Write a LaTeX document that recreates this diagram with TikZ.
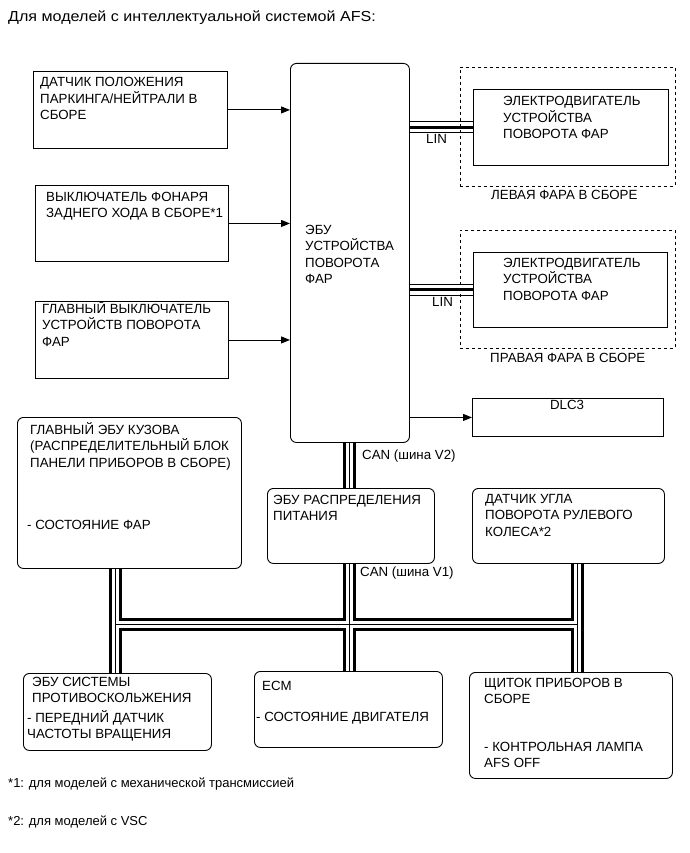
\documentclass[tikz,border=0pt]{standalone}
\usepackage{fontspec}
\setmainfont{Liberation Sans}
\newfontfamily\titlefont{Liberation Sans}[FakeStretch=1.11]
\usetikzlibrary{arrows.meta}
\pgfdeclarelayer{back}
\pgfdeclarelayer{bg}
\pgfsetlayers{back,bg,main}
\newcommand\busCAN[1]{\draw[#1]
  (ecu.south -| jc) -- (pwr.north -| jc)
  (pwr.south -| jc) -- (ecm.north -| jc)
  (body.south -| jl) -- (abs.north -| jl)
  (steer.south -| jr) -- (clus.north -| jr)
  (jl) -- (jr);}
\newcommand\busLIN[1]{\draw[#1]
  (motl.west -| ecu.east) -- (motl.west)
  (motr.west -| ecu.east) -- (motr.west);}
\begin{document}
\begin{tikzpicture}[x=1pt,y=-1pt,
  box/.style={draw, line width=0.9pt, fill=white, anchor=north west, inner sep=0pt, rectangle},
  rbox/.style={box, rounded corners=6pt},
  lamp/.style={draw, dash pattern=on 3pt off 3pt, line width=0.8pt, anchor=north west, inner sep=0pt, rectangle},
  txt/.style={font=\fontsize{13.3}{16.5}\selectfont, align=left, anchor=base west, inner sep=0pt},
  arr/.style={line width=0.9pt, -{Triangle[length=9pt,width=7pt]}},
]
\useasboundingbox (0,0) rectangle (689,853);
\begin{pgfonlayer}{back}
\fill[white] (0,0) rectangle (689,853);
\end{pgfonlayer}

\node[txt, font=\titlefont\fontsize{14.5}{16}\selectfont] (title) at (8,22) {Для моделей с интеллектуальной системой AFS:};

% input boxes (multi-line nodes are anchored at the baseline of their last line)
\node[box, minimum width=194pt, minimum height=77pt] (pnp) at (33,71) {};
\node[txt] (pnpT) at (40,120) {ДАТЧИК ПОЛОЖЕНИЯ\\ПАРКИНГА/НЕЙТРАЛИ В\\СБОРЕ};
\node[box, minimum width=193pt, minimum height=76pt] (bls) at (35,185) {};
\node[txt] (blsT) at (46,217.5) {ВЫКЛЮЧАТЕЛЬ ФОНАРЯ\\ЗАДНЕГО ХОДА В СБОРЕ*1};
\node[box, minimum width=193pt, minimum height=77pt] (msw) at (35,301) {};
\node[txt] (mswT) at (42,346) {ГЛАВНЫЙ ВЫКЛЮЧАТЕЛЬ\\УСТРОЙСТВ ПОВОРОТА\\ФАР};

% ECU
\node[rbox, minimum width=119pt, minimum height=379pt] (ecu) at (290,63) {};
\node[txt] (ecuT) at (305,283.5) {ЭБУ\\УСТРОЙСТВА\\ПОВОРОТА\\ФАР};

% headlamps
\node[lamp, minimum width=215pt, minimum height=119pt] (laml) at (460,67) {};
\node[box, minimum width=195pt, minimum height=76pt] (motl) at (473,89) {};
\node[txt] (motlT) at (503,139) {ЭЛЕКТРОДВИГАТЕЛЬ\\УСТРОЙСТВА\\ПОВОРОТА ФАР};
\node[txt] (lamlT) at (491,200) {ЛЕВАЯ ФАРА В СБОРЕ};
\node[txt] (linl) at (426,144) {LIN};

\node[lamp, minimum width=215pt, minimum height=118pt] (lamr) at (460,230) {};
\node[box, minimum width=194pt, minimum height=75pt] (motr) at (473,252) {};
\node[txt] (motrT) at (503,300) {ЭЛЕКТРОДВИГАТЕЛЬ\\УСТРОЙСТВА\\ПОВОРОТА ФАР};
\node[txt] (lamrT) at (490,362) {ПРАВАЯ ФАРА В СБОРЕ};
\node[txt] (linr) at (432,306) {LIN};

% DLC3
\node[box, minimum width=191pt, minimum height=38pt] (dlc) at (472,398) {};
\node[txt, anchor=base] (dlcT) at (567,409) {DLC3};

% middle row
\node[rbox, minimum width=224pt, minimum height=151pt] (body) at (17,417) {};
\node[txt] (bodyT) at (30,467) {ГЛАВНЫЙ ЭБУ КУЗОВА\\(РАСПРЕДЕЛИТЕЛЬНЫЙ БЛОК\\ПАНЕЛИ ПРИБОРОВ В СБОРЕ)};
\node[txt] (bodyS) at (27,529) {- СОСТОЯНИЕ ФАР};

\node[rbox, minimum width=167pt, minimum height=75pt] (pwr) at (267,488) {};
\node[txt] (pwrT) at (273,520.5) {ЭБУ РАСПРЕДЕЛЕНИЯ\\ПИТАНИЯ};
\node[txt] (canv2) at (362,459) {CAN (шина V2)};
\node[txt] (canv1) at (360,576) {CAN (шина V1)};

\node[rbox, minimum width=192pt, minimum height=75pt] (steer) at (472,488) {};
\node[txt] (steerT) at (485,536) {ДАТЧИК УГЛА\\ПОВОРОТА РУЛЕВОГО\\КОЛЕСА*2};

% bottom row
\node[rbox, minimum width=188pt, minimum height=77pt] (abs) at (23,673) {};
\node[txt] (absT) at (32,702.5) {ЭБУ СИСТЕМЫ\\ПРОТИВОСКОЛЬЖЕНИЯ};
\node[txt] (absS) at (27,738.5) {- ПЕРЕДНИЙ ДАТЧИК\\ЧАСТОТЫ ВРАЩЕНИЯ};

\node[rbox, minimum width=188pt, minimum height=76pt] (ecm) at (254,671) {};
\node[txt] (ecmT) at (262,690) {ECM};
\node[txt] (ecmS) at (256,721) {- СОСТОЯНИЕ ДВИГАТЕЛЯ};

\node[rbox, minimum width=203pt, minimum height=106pt] (clus) at (469,672) {};
\node[txt] (clusT) at (484,703.5) {ЩИТОК ПРИБОРОВ В\\СБОРЕ};
\node[txt] (clusS) at (484,767.5) {- КОНТРОЛЬНАЯ ЛАМПА\\AFS OFF};

% footnotes
\node[txt, font=\fontsize{13}{16}\selectfont] (fn1) at (8,787) {*1: для моделей с механической трансмиссией};
\node[txt, font=\fontsize{13}{16}\selectfont] (fn2) at (8,825) {*2: для моделей с VSC};

% arrows
\draw[arr] (pnp.east) -- (pnp.east -| ecu.west);
\draw[arr] (bls.east) -- (bls.east -| ecu.west);
\draw[arr] (msw.east) -- (msw.east -| ecu.west);
\draw[arr] (dlc.west -| ecu.east) -- (dlc.west);

% buses
\coordinate (jl) at (115,624);
\coordinate (jc) at (349,624);
\coordinate (jr) at (577,624);
\begin{pgfonlayer}{bg}
\busCAN{line width=13pt}
\busCAN{white, line width=7pt}
\busCAN{line width=0.8pt}
\busLIN{line width=12pt}
\busLIN{white, line width=10pt}
\busLIN{line width=3pt}
\end{pgfonlayer}
\end{tikzpicture}
\end{document}
